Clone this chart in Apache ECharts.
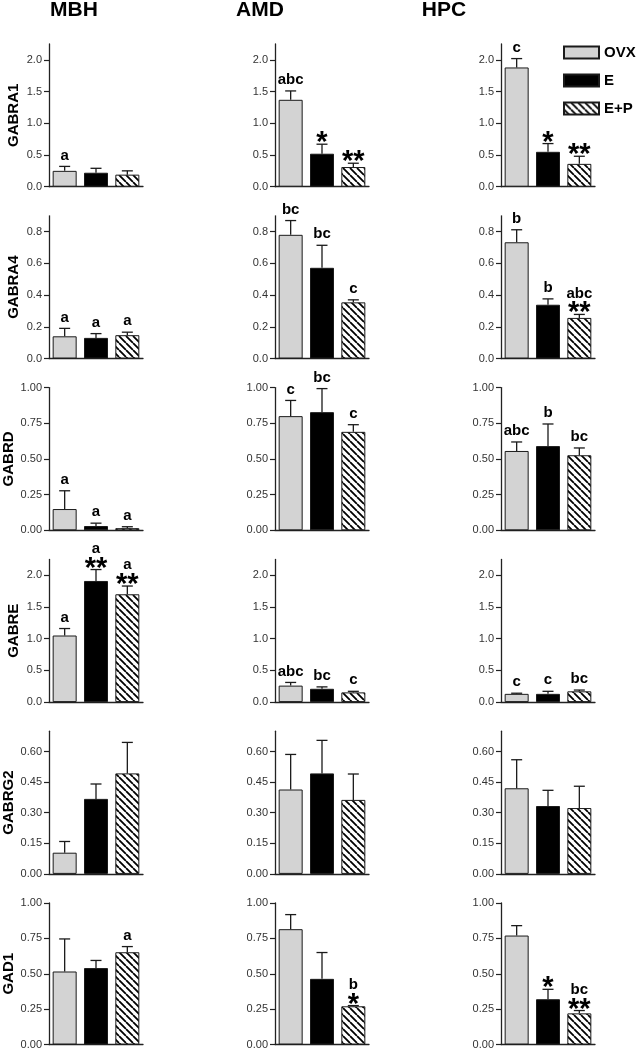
<!DOCTYPE html>
<html><head><meta charset="utf-8">
<script src="https://cdn.jsdelivr.net/npm/echarts@6/dist/echarts.min.js"></script>
<style>html,body{margin:0;padding:0;background:#fff}#c{width:636px;height:1050px}</style>
</head><body><div id="c"></div>
<script>
// ---------- data ----------
const regions = ['MBH', 'AMD', 'HPC'];
const genes = ['GABRA1', 'GABRA4', 'GABRD', 'GABRE', 'GABRG2', 'GAD1'];
const groups = ['OVX', 'E', 'E+P'];

// y-axis maximum and tick labels for each gene row
const yMax = [2.25, 0.9, 1.0, 2.25, 0.7, 1.0];
const ticksGABRA1 = ['0.0', '0.5', '1.0', '1.5', '2.0'];
const ticksGABRA4 = ['0.0', '0.2', '0.4', '0.6', '0.8'];
const ticksGABRD = ['0.00', '0.25', '0.50', '0.75', '1.00'];
const ticksGABRE = ['0.0', '0.5', '1.0', '1.5', '2.0'];
const ticksGABRG2 = ['0.00', '0.15', '0.30', '0.45', '0.60'];
const ticksGAD1 = ['0.00', '0.25', '0.50', '0.75', '1.00'];

// means: [region][group]  (MBH, AMD, HPC) x (OVX, E, E+P)
const meanGABRA1 = [[0.25, 0.22, 0.19], [1.37, 0.52, 0.31], [1.88, 0.55, 0.36]];
const errGABRA1 = [[0.32, 0.29, 0.25], [1.51, 0.67, 0.37], [2.02, 0.68, 0.48]];
const letGABRA1 = [['a', '', ''], ['abc', '', ''], ['c', '', '']];
const starGABRA1 = [['', '', ''], ['', '*', '**'], ['', '*', '**']];

const meanGABRA4 = [[0.14, 0.13, 0.147], [0.78, 0.572, 0.354], [0.733, 0.339, 0.256]];
const errGABRA4 = [[0.19, 0.157, 0.166], [0.87, 0.714, 0.37], [0.812, 0.376, 0.278]];
const letGABRA4 = [['a', 'a', 'a'], ['bc', 'bc', 'c'], ['b', 'b', 'abc']];
const starGABRA4 = [['', '', ''], ['', '', ''], ['', '', '**']];

const meanGABRD = [[0.149, 0.03, 0.015], [0.80, 0.828, 0.69], [0.556, 0.59, 0.526]];
const errGABRD = [[0.277, 0.05, 0.025], [0.91, 0.993, 0.74], [0.619, 0.745, 0.577]];
const letGABRD = [['a', 'a', 'a'], ['c', 'bc', 'c'], ['abc', 'b', 'bc']];
const starGABRD = [['', '', ''], ['', '', ''], ['', '', '']];

const meanGABRE = [[1.05, 1.91, 1.70], [0.26, 0.21, 0.153], [0.13, 0.13, 0.17]];
const errGABRE = [[1.16, 2.09, 1.83], [0.31, 0.24, 0.17], [0.14, 0.17, 0.19]];
const letGABRE = [['a', 'a', 'a'], ['abc', 'bc', 'c'], ['c', 'c', 'bc']];
const starGABRE = [['', '**', '**'], ['', '', ''], ['', '', '']];

const meanGABRG2 = [[0.104, 0.368, 0.493], [0.414, 0.493, 0.363], [0.42, 0.333, 0.323]];
const errGABRG2 = [[0.159, 0.441, 0.645], [0.586, 0.655, 0.49], [0.56, 0.41, 0.43]];
const letGABRG2 = [['', '', ''], ['', '', ''], ['', '', '']];
const starGABRG2 = [['', '', ''], ['', '', ''], ['', '', '']];

const meanGAD1 = [[0.516, 0.54, 0.652], [0.815, 0.464, 0.27], [0.77, 0.32, 0.22]];
const errGAD1 = [[0.746, 0.594, 0.692], [0.918, 0.65, 0.275], [0.84, 0.39, 0.24]];
const letGAD1 = [['', '', 'a'], ['', '', 'b'], ['', '', 'bc']];
const starGAD1 = [['', '', ''], ['', '', '*'], ['', '*', '**']];

// ---------- assembly ----------
const tickRows = [ticksGABRA1, ticksGABRA4, ticksGABRD, ticksGABRE, ticksGABRG2, ticksGAD1];
const meanRows = [meanGABRA1, meanGABRA4, meanGABRD, meanGABRE, meanGABRG2, meanGAD1];
const errRows = [errGABRA1, errGABRA4, errGABRD, errGABRE, errGABRG2, errGAD1];
const letRows = [letGABRA1, letGABRA4, letGABRD, letGABRE, letGABRG2, letGAD1];
const starRows = [starGABRA1, starGABRA4, starGABRD, starGABRE, starGABRG2, starGAD1];

const FONT = 'Liberation Sans, Arial, Helvetica, sans-serif';
const colLeft = [49, 275, 501];
const rowTop0 = 44, rowStep = 171.8, plotH = 142.7, plotW = 94;

function makeHatch() {
  const s = 7;
  const cv = document.createElement('canvas');
  cv.width = s; cv.height = s;
  const g = cv.getContext('2d');
  g.fillStyle = '#fff'; g.fillRect(0, 0, s, s);
  g.strokeStyle = '#000'; g.lineWidth = 1.8;
  g.beginPath();
  for (const k of [-1, 0, 1]) { g.moveTo(k * s, 0); g.lineTo(k * s + s, s); }
  g.stroke();
  return cv;
}
const fills = ['#d3d3d3', '#000000', { image: makeHatch(), repeat: 'repeat' }];

const grid = [], xAxis = [], yAxis = [], series = [];
genes.forEach((gene, r) => {
  regions.forEach((reg, c) => {
    const idx = r * 3 + c;
    grid.push({ left: colLeft[c], top: rowTop0 + r * rowStep, width: plotW, height: plotH, containLabel: false });
    xAxis.push({
      type: 'category', gridIndex: idx, data: groups, boundaryGap: true,
      axisLine: { show: true, lineStyle: { color: '#222', width: 1.3 } },
      axisTick: { show: false }, axisLabel: { show: false }, splitLine: { show: false }
    });
    const tv = tickRows[r].map(Number);
    yAxis.push({
      type: 'value', gridIndex: idx, min: 0, max: yMax[r],
      name: c === 0 ? gene : '', nameLocation: 'middle', nameGap: 28, nameRotate: 90,
      nameTextStyle: { fontFamily: FONT, fontWeight: 'bold', fontSize: 15, color: '#000' },
      axisLine: { show: true, lineStyle: { color: '#222', width: 1.3 } },
      axisTick: { show: true, length: 5, customValues: tv, lineStyle: { color: '#222', width: 1.2 } },
      axisLabel: {
        show: true, customValues: tv, margin: 7, fontFamily: FONT, fontSize: 11, color: '#333',
        formatter: v => { const k = tv.findIndex(t => Math.abs(t - v) < 1e-9); return k >= 0 ? tickRows[r][k] : ''; }
      },
      splitLine: { show: false }
    });
    groups.forEach((gname, gi) => {
      series.push({
        type: 'bar', name: gname, xAxisIndex: idx, yAxisIndex: idx,
        barWidth: 24, barGap: '-100%',
        itemStyle: { color: fills[gi], borderColor: '#1a1a1a', borderWidth: 1 },
        data: groups.map((_, k) => (k === gi ? meanRows[r][c][gi] : '-')),
        silent: true, z: 2
      });
    });
    const means = meanRows[r][c], errs = errRows[r][c], lets = letRows[r][c], stars = starRows[r][c];
    series.push({
      type: 'custom', xAxisIndex: idx, yAxisIndex: idx, z: 3, silent: true, clip: false,
      data: groups.map((_, k) => [k, means[k], errs[k]]),
      renderItem: (params, api) => {
        const i = params.dataIndex;
        const pTop = api.coord([i, means[i]]);
        const pCap = api.coord([i, errs[i]]);
        const x = pTop[0];
        const children = [
          { type: 'line', shape: { x1: x, y1: pTop[1], x2: x, y2: pCap[1] }, style: { stroke: '#1a1a1a', lineWidth: 1.3 } },
          { type: 'line', shape: { x1: x - 5.5, y1: pCap[1], x2: x + 5.5, y2: pCap[1] }, style: { stroke: '#1a1a1a', lineWidth: 1.3 } }
        ];
        const hasStar = stars[i] !== '';
        if (hasStar) {
          children.push({ type: 'text', x: x, y: pCap[1] - 1,
            style: { text: stars[i], fill: '#000', font: 'bold 29px ' + FONT, align: 'center', verticalAlign: 'middle', textAlign: 'center', textVerticalAlign: 'middle' } });
        }
        if (lets[i] !== '') {
          children.push({ type: 'text', x: x, y: pCap[1] - (hasStar ? 21 : 11),
            style: { text: lets[i], fill: '#000', font: 'bold 15px ' + FONT, align: 'center', verticalAlign: 'middle', textAlign: 'center', textVerticalAlign: 'middle' } });
        }
        return { type: 'group', children };
      }
    });
  });
});

const graphic = [
  { x: 74, y: 10 }, { x: 260, y: 10 }, { x: 444, y: 10 }
].map((p, i) => ({
  type: 'text', x: p.x, y: p.y,
  style: { text: regions[i], font: 'bold 21px ' + FONT, fill: '#000', align: 'center', verticalAlign: 'middle', textAlign: 'center', textVerticalAlign: 'middle' }
}));

const chart = echarts.init(document.getElementById('c'), null, { renderer: 'canvas' });
chart.setOption({
  animation: false,
  backgroundColor: '#fff',
  grid, xAxis, yAxis, series, graphic,
  legend: {
    data: groups.map(g => ({ name: g, icon: 'rect' })), orient: 'vertical', left: 563, top: 45, padding: 0,
    itemWidth: 35, itemHeight: 12, itemGap: 13, selectedMode: false,
    textStyle: { fontFamily: FONT, fontWeight: 'bold', fontSize: 15, color: '#000' }
  }
});
</script></body></html>
